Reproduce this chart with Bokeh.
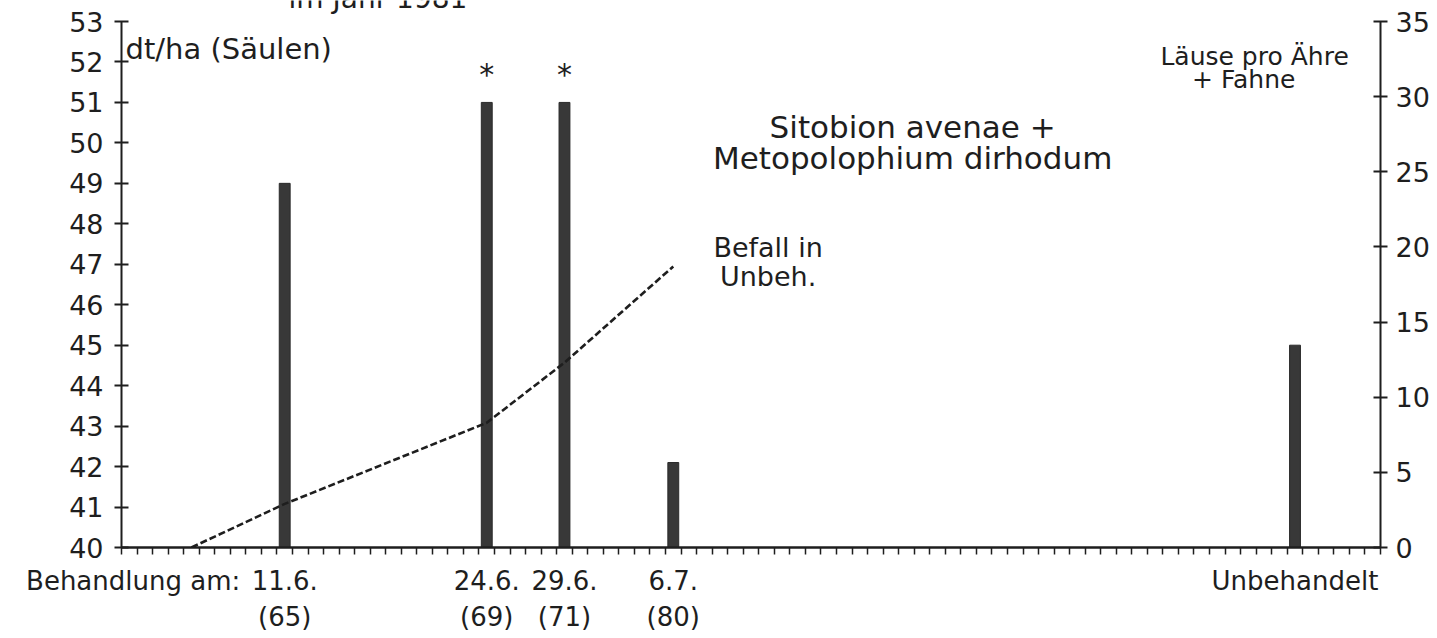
from bokeh.plotting import figure
from bokeh.models import Range1d, LinearAxis, FixedTicker, Label, ColumnDataSource
from bokeh.core.properties import value
from bokeh.embed import file_html
from bokeh.resources import INLINE

# ---------------- data ----------------
bar_pos = [11, 24, 29, 36, 76]                 # treatment day (June = day n); last = untreated plot
bar_yield = [49.0, 51.0, 51.0, 42.1, 45.0]     # dt/ha
bar_signif = [False, True, True, False, False]
date_labels = ["11.6.", "24.6.", "29.6.", "6.7.", "Unbehandelt"]
stage_labels = ["(65)", "(69)", "(71)", "(80)"]
prefix_label = "Behandlung am:"

lice_days = [5, 11, 24, 29, 36]
lice_values = [0.0, 2.9, 8.3, 12.3, 18.7]      # Läuse pro Ähre + Fahne (untreated)

left_ticks = list(range(40, 54))
right_ticks = [0, 5, 10, 15, 20, 25, 30, 35]
x_ticks = [d + 0.5 for d in range(0, 82)]

FONT = "DejaVu Sans"
INK = "#1e1e1e"

# frame reaches the top of the canvas so the cut-off heading can show;
# the axes themselves stop at 53 / 35 via bounds
pad = 21 / 526
y_end = 53 + 13 * pad
r_end = 35 + 35 * pad

p = figure(width=1437, height=638, x_range=Range1d(0.5, 81.5), y_range=Range1d(40, y_end),
           output_backend="svg", toolbar_location=None,
           min_border_left=121, min_border_right=57, min_border_top=0, min_border_bottom=91)
p.extra_y_ranges = {"lice": Range1d(0, r_end)}
p.outline_line_color = None
p.xgrid.visible = False
p.ygrid.visible = False
p.background_fill_color = "white"
p.border_fill_color = "white"

def style_y(ax, standoff):
    ax.major_tick_in = 7
    ax.major_tick_out = 7
    ax.minor_tick_line_color = None
    ax.axis_line_width = 2
    ax.axis_line_color = INK
    ax.major_tick_line_width = 2
    ax.major_tick_line_color = INK
    ax.major_label_text_font = FONT
    ax.major_label_text_font_size = "27px"
    ax.major_label_text_color = INK
    ax.major_label_standoff = standoff

p.yaxis.ticker = FixedTicker(ticks=left_ticks)
p.yaxis.bounds = (40, 53)
style_y(p.yaxis[0], 11)

ra = LinearAxis(y_range_name="lice", ticker=FixedTicker(ticks=right_ticks), bounds=(0, 35))
style_y(ra, 8)
p.add_layout(ra, "right")

# daily tick axis
xa = p.xaxis[0]
xa.ticker = FixedTicker(ticks=x_ticks)
xa.major_tick_in = 0
xa.major_tick_out = 7
xa.minor_tick_line_color = None
xa.axis_line_width = 2.5
xa.axis_line_color = INK
xa.major_tick_line_width = 1.5
xa.major_tick_line_color = INK
xa.major_label_text_alpha = 0
xa.major_label_text_font_size = "1px"
xa.major_label_standoff = 0

def label_axis(ticks, labels, standoff):
    ax = LinearAxis(ticker=FixedTicker(ticks=ticks),
                    major_label_overrides={t: s for t, s in zip(ticks, labels)})
    ax.axis_line_color = None
    ax.major_tick_line_color = None
    ax.minor_tick_line_color = None
    ax.major_tick_in = 0
    ax.major_tick_out = 0
    ax.major_label_text_font = FONT
    ax.major_label_text_font_size = "26px"
    ax.major_label_text_color = INK
    ax.major_label_standoff = standoff
    p.add_layout(ax, "below")
    return ax

prefix_x = bar_pos[0] - 9.75
label_axis([prefix_x] + bar_pos, [prefix_label] + date_labels, 11)
label_axis(bar_pos[:4], stage_labels, 3)

# bars
src = ColumnDataSource(dict(x=bar_pos, top=bar_yield))
p.vbar(x="x", top="top", bottom=40, width=0.7, source=src,
       fill_color="#383838", line_color="#2a2a2a", line_width=1)

# significance stars
sx = [x for x, s in zip(bar_pos, bar_signif) if s]
sy = [y for y, s in zip(bar_yield, bar_signif) if s]
p.text(x=sx, y=sy, text=["*"] * len(sx), text_align="center", text_baseline="middle",
       y_offset=-28, text_font=value(FONT), text_font_size="30px", text_color=INK)

# infestation line
p.line(x=lice_days, y=lice_values, y_range_name="lice", line_dash="7 3",
       line_width=2.6, line_color=INK)

def lab(x, y, t, size="27px", align="center", baseline="middle"):
    p.add_layout(Label(x=x, y=y, text=t, text_align=align, text_baseline=baseline,
                       text_font=FONT, text_font_size=size, text_color=INK))

lab(0.76, 52.33, "dt/ha (Säulen)", size="29px", align="left")
lab(73.4, 52.14, "Läuse pro Ähre", size="25px")
lab(72.7, 51.57, "+ Fahne", size="25px")
lab(51.4, 50.40, "Sitobion avenae +", size="31px")
lab(51.4, 49.62, "Metopolophium dirhodum", size="31px")
lab(42.1, 47.41, "Befall in", size="27px")
lab(42.1, 46.70, "Unbeh.", size="27px")
lab(17.0, 53.57, "im Jahr 1981", size="28px", baseline="alphabetic")

open("out.html", "w").write(file_html(p, INLINE))
